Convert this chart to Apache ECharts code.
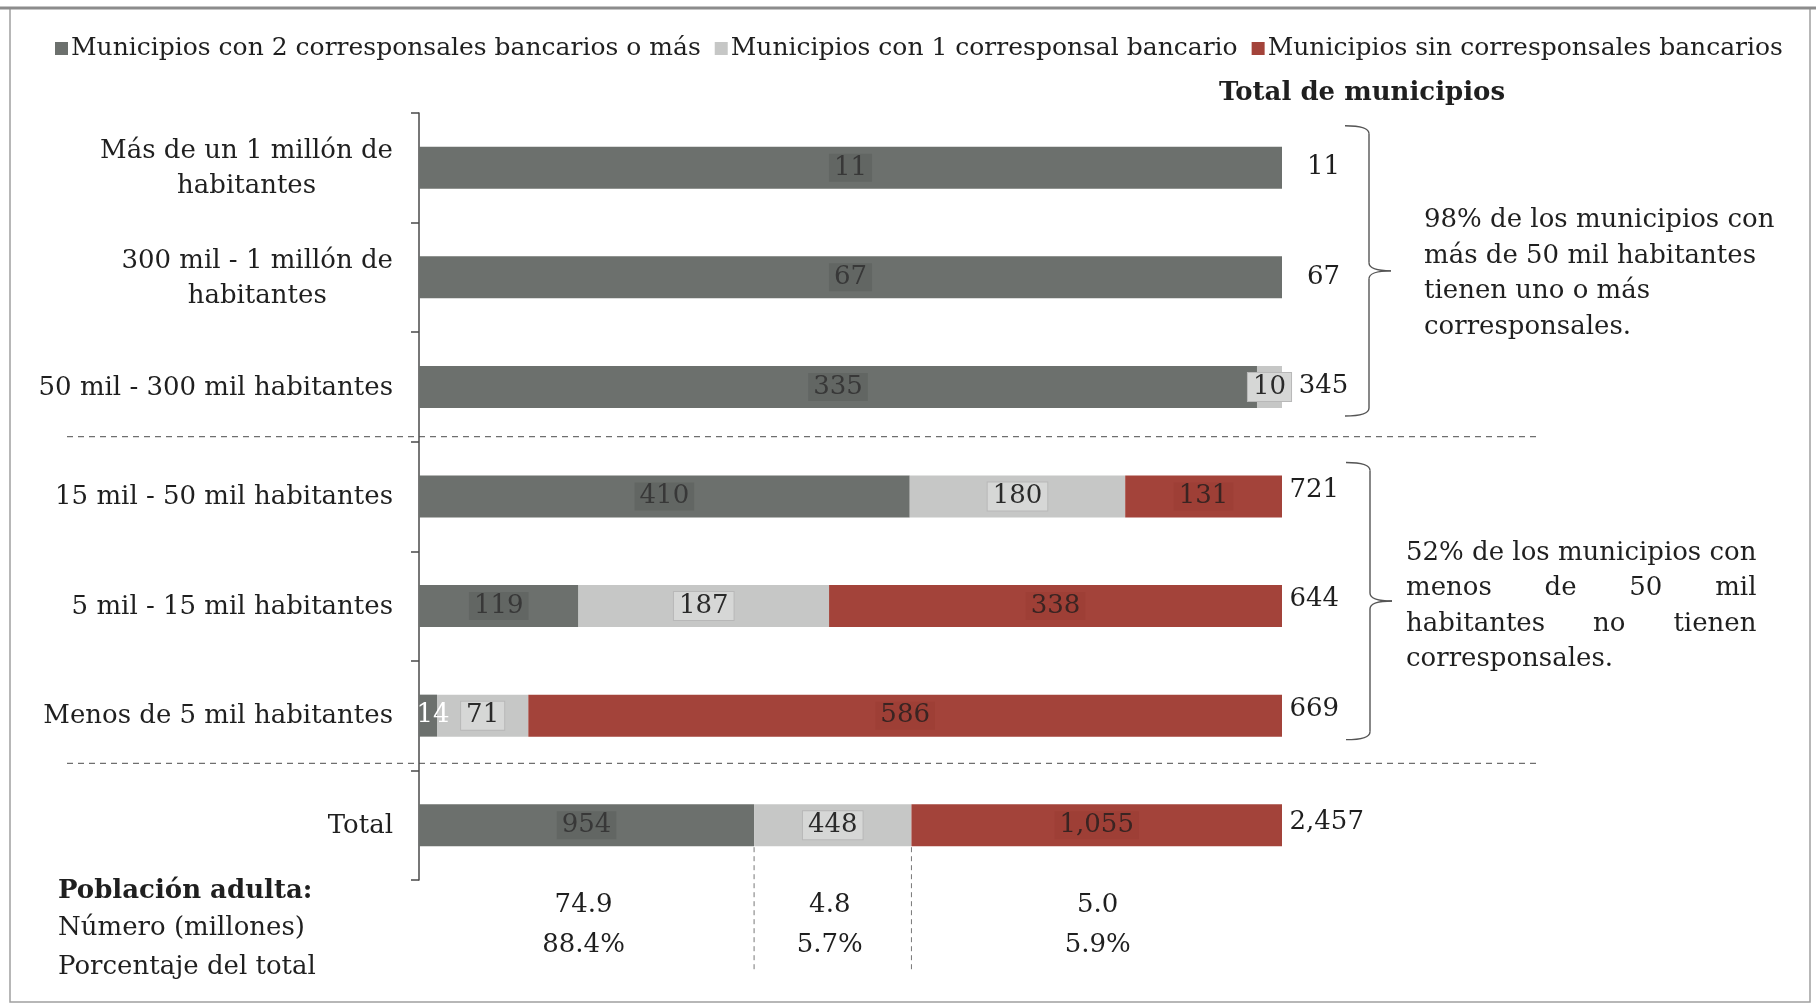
<!DOCTYPE html>
<html lang="es">
<head>
<meta charset="utf-8">
<title>Municipios por número de corresponsales bancarios</title>
<script src="https://cdn.jsdelivr.net/npm/echarts@6/dist/echarts.min.js"></script>
<style>
  html, body { margin: 0; padding: 0; background: #ffffff; }
  #chart { width: 1816px; height: 1006px; }
</style>
</head>
<body>
<div id="chart"></div>
<script>
// Tamaño de municipio (por habitantes), de mayor a menor, más el total
const categories = [
  'Más de un 1 millón de\nhabitantes',
  '300 mil - 1 millón de\nhabitantes',
  '50 mil - 300 mil habitantes',
  '15 mil - 50 mil habitantes',
  '5 mil - 15 mil habitantes',
  'Menos de 5 mil habitantes',
  'Total'
];
const seriesNames = [
  'Municipios con 2 corresponsales bancarios o más',
  'Municipios con 1 corresponsal bancario',
  'Municipios sin corresponsales bancarios'
];
// Número de municipios en cada grupo
const dosOMas = [11, 67, 335, 410, 119, 14, 954];
const uno = [0, 0, 10, 180, 187, 71, 448];
const sinCorresponsal = [0, 0, 0, 131, 338, 586, 1055];
const totalMunicipios = [11, 67, 345, 721, 644, 669, 2457];
// Población adulta por grupo del total
const poblacionNumero = [74.9, 4.8, 5.0];
const poblacionPorcentaje = [88.4, 5.7, 5.9];

const notaMayores = ['98% de los municipios con', 'más de 50 mil habitantes', 'tienen uno o más', 'corresponsales.'];
const notaMenores = ['52% de los municipios con', 'menos de 50 mil', 'habitantes no tienen', 'corresponsales.'];

const FONT = '"DejaVu Serif", "Liberation Serif", serif';
const FS = 26;
const INK = '#1f1f1f';
const COLORS = ['#6c706d', '#c6c7c6', '#a3433a'];

const fmt = v => v.toLocaleString('en-US');
const sums = categories.map((_, i) => dosOMas[i] + uno[i] + sinCorresponsal[i]);

function barData(arr, k) {
  return arr.map((v, i) => {
    const item = { value: v / sums[i], raw: v };
    if (v === 0) item.label = { show: false };
    else if (k === 0 && v / sums[i] < 0.05) item.label = { color: '#ffffff', backgroundColor: 'transparent', borderWidth: 0, offset: [5, 0] };
    return item;
  });
}

const labelBoxes = [
  { color: '#383838', backgroundColor: '#626663' },
  { color: '#2a2a2a', backgroundColor: '#d6d7d6', borderColor: '#b8b8b8', borderWidth: 1 },
  { color: '#3a2422', backgroundColor: '#9e3f36' }
];

const chart = echarts.init(document.getElementById('chart'), null, { renderer: 'canvas' });

const barSeries = [dosOMas, uno, sinCorresponsal].map((arr, k) => ({
  name: seriesNames[k],
  type: 'bar',
  stack: 'municipios',
  barWidth: 42,
  data: barData(arr, k),
  itemStyle: { color: COLORS[k] },
  label: Object.assign({
    show: true,
    position: 'inside',
    fontFamily: FONT,
    fontSize: FS,
    padding: [1, 5],
    formatter: p => fmt(p.data.raw)
  }, labelBoxes[k]),
  emphasis: { disabled: true },
  silent: true
}));

// Etiquetas de total al final de cada barra
const totalSeries = {
  type: 'scatter',
  symbolSize: 1,
  itemStyle: { color: 'transparent' },
  silent: true,
  clip: false,
  z: 5,
  data: totalMunicipios.map((t, i) => ({
    value: [1, i],
    label: i < 3
      ? { position: [42, 0], align: 'center', verticalAlign: 'middle' }
      : { position: [8, i === 6 ? -2 : -6], align: 'left', verticalAlign: 'middle' }
  })),
  label: {
    show: true,
    fontFamily: FONT,
    fontSize: FS,
    color: INK,
    opacity: 1,
    formatter: p => fmt(totalMunicipios[p.dataIndex])
  }
};

chart.setOption({
  animation: false,
  backgroundColor: '#ffffff',
  textStyle: { fontFamily: FONT },
  legend: {
    data: seriesNames,
    left: 50,
    top: 31,
    itemWidth: 13,
    itemHeight: 13,
    itemGap: 14,
    icon: 'rect',
    selectedMode: false,
    textStyle: { fontFamily: FONT, fontSize: 25, color: INK, padding: [0, 0, 0, -2] }
  },
  grid: { left: 419, top: 113, width: 863, height: 767, containLabel: false },
  xAxis: { type: 'value', min: 0, max: 1, show: false },
  yAxis: {
    type: 'category',
    data: categories,
    inverse: true,
    axisLine: { show: true, lineStyle: { color: '#4a4a4a', width: 1.5 } },
    axisTick: { show: true, length: 8, lineStyle: { color: '#4a4a4a', width: 1.5 } },
    axisLabel: { show: false },
    splitLine: { show: false }
  },
  series: barSeries.concat([totalSeries])
});

// Anotaciones y textos fuera de la rejilla
const px = (x, i) => chart.convertToPixel({ gridIndex: 0 }, [x, i]);
const yOf = i => px(0, i)[1];
const xOf = v => px(v, 0)[0];
const ctx = document.createElement('canvas').getContext('2d');
const measure = (t, bold) => { ctx.font = (bold ? 'bold ' : '') + FS + 'px ' + FONT; return ctx.measureText(t).width; };
const txt = (x, y, text, extra) => ({
  type: 'text', x, y, silent: true,
  style: Object.assign({ text, fontFamily: FONT, fontSize: FS, fill: INK, align: 'left', verticalAlign: 'middle' }, extra || {})
});

const g = [];
const axisX = xOf(0);
const labelRight = axisX - 26;

// Nombres de categoría
categories.forEach((c, i) => {
  const lines = c.split('\n');
  const y = yOf(i) + 1;
  if (lines.length === 1) {
    g.push(txt(labelRight, y, c, { align: 'right' }));
  } else {
    const cx = labelRight - measure(lines[0]) / 2;
    g.push(txt(cx, y - 17.5, lines[0], { align: 'center' }));
    g.push(txt(cx, y + 17.5, lines[1], { align: 'center' }));
  }
});

// Separadores discontinuos entre grupos
[[2, 3, -5], [5, 6, -7]].forEach(([a, b, d]) => {
  const y = (yOf(a) + yOf(b)) / 2 + d;
  g.push({ type: 'line', silent: true, shape: { x1: 67, y1: y, x2: 1540, y2: y },
    style: { stroke: '#6f6f6f', lineWidth: 1.2, lineDash: [6, 5] } });
});

// Título de la columna de totales
g.push(txt(1362, 93, 'Total de municipios', { align: 'center', fontWeight: 'bold' }));

// Llaves que agrupan las filas
const braceStyle = { stroke: '#555555', lineWidth: 1.4, fill: null };
function brace(x, top, bot) {
  const mid = (top + bot) / 2;
  const curve = (x1, y1, cx, cy, x2, y2) => ({ type: 'bezierCurve', silent: true,
    shape: { x1, y1, x2, y2, cpx1: cx, cpy1: cy }, style: braceStyle });
  const seg = (y1, y2) => ({ type: 'line', silent: true, shape: { x1: x, y1, x2: x, y2 }, style: braceStyle });
  return [
    curve(x - 24, top, x, top, x, top + 8),
    seg(top + 8, mid - 8),
    curve(x, mid - 8, x, mid, x + 22, mid),
    curve(x + 22, mid, x, mid, x, mid + 8),
    seg(mid + 8, bot - 8),
    curve(x, bot - 8, x, bot, x - 24, bot)
  ];
}
const b1Top = yOf(0) - 42, b1Bot = yOf(2) + 29;
const b2Top = yOf(3) - 34, b2Bot = yOf(5) + 24;
g.push(...brace(1369, b1Top, b1Bot));
g.push(...brace(1370, b2Top, b2Bot));

// Notas
const LH = 35.5;
const m1 = (b1Top + b1Bot) / 2 + 3;
notaMayores.forEach((l, k) => g.push(txt(1424, m1 + (k - 1.5) * LH, l)));

// Nota justificada al ancho de su primera línea
const m2 = (b2Top + b2Bot) / 2 + 5;
const left2 = 1406;
const width2 = measure(notaMenores[0]);
notaMenores.forEach((l, k) => {
  const y = m2 + (k - 1.5) * LH;
  const words = l.split(' ');
  if (k === 0 || k === notaMenores.length - 1 || words.length < 2) {
    g.push(txt(left2, y, l));
    return;
  }
  const ws = words.map(w => measure(w));
  const gap = (width2 - ws.reduce((a, b) => a + b, 0)) / (words.length - 1);
  let x = left2;
  words.forEach((w, j) => { g.push(txt(x, y, w)); x += ws[j] + gap; });
});

// Población adulta bajo la barra del total
const ti = categories.length - 1;
const bounds = [0, dosOMas[ti], dosOMas[ti] + uno[ti], sums[ti]].map(v => xOf(v / sums[ti]));
g.push(txt(58, 891, 'Población adulta:', { fontWeight: 'bold' }));
g.push(txt(58, 928, 'Número (millones)'));
g.push(txt(58, 967, 'Porcentaje del total'));
poblacionNumero.forEach((n, k) => {
  const cx = (bounds[k] + bounds[k + 1]) / 2 - 3 + (k === 2 ? 4 : 0);
  g.push(txt(cx, 905, n.toFixed(1), { align: 'center' }));
  g.push(txt(cx, 945, poblacionPorcentaje[k].toFixed(1) + '%', { align: 'center' }));
});
[bounds[1], bounds[2]].forEach(x => {
  g.push({ type: 'line', silent: true, shape: { x1: x, y1: yOf(ti) + 22, x2: x, y2: 973 },
    style: { stroke: '#777777', lineWidth: 1, lineDash: [5, 4] } });
});

// Marco de la figura
g.push({ type: 'rect', silent: true, shape: { x: 10, y: 8, width: 1800, height: 994 },
  style: { stroke: '#a0a0a0', lineWidth: 1.5, fill: null } });
g.push({ type: 'line', silent: true, shape: { x1: 0, y1: 8, x2: 1816, y2: 8 },
  style: { stroke: '#8c8c8c', lineWidth: 3 } });

chart.setOption({ graphic: { elements: g } });
</script>
</body>
</html>
